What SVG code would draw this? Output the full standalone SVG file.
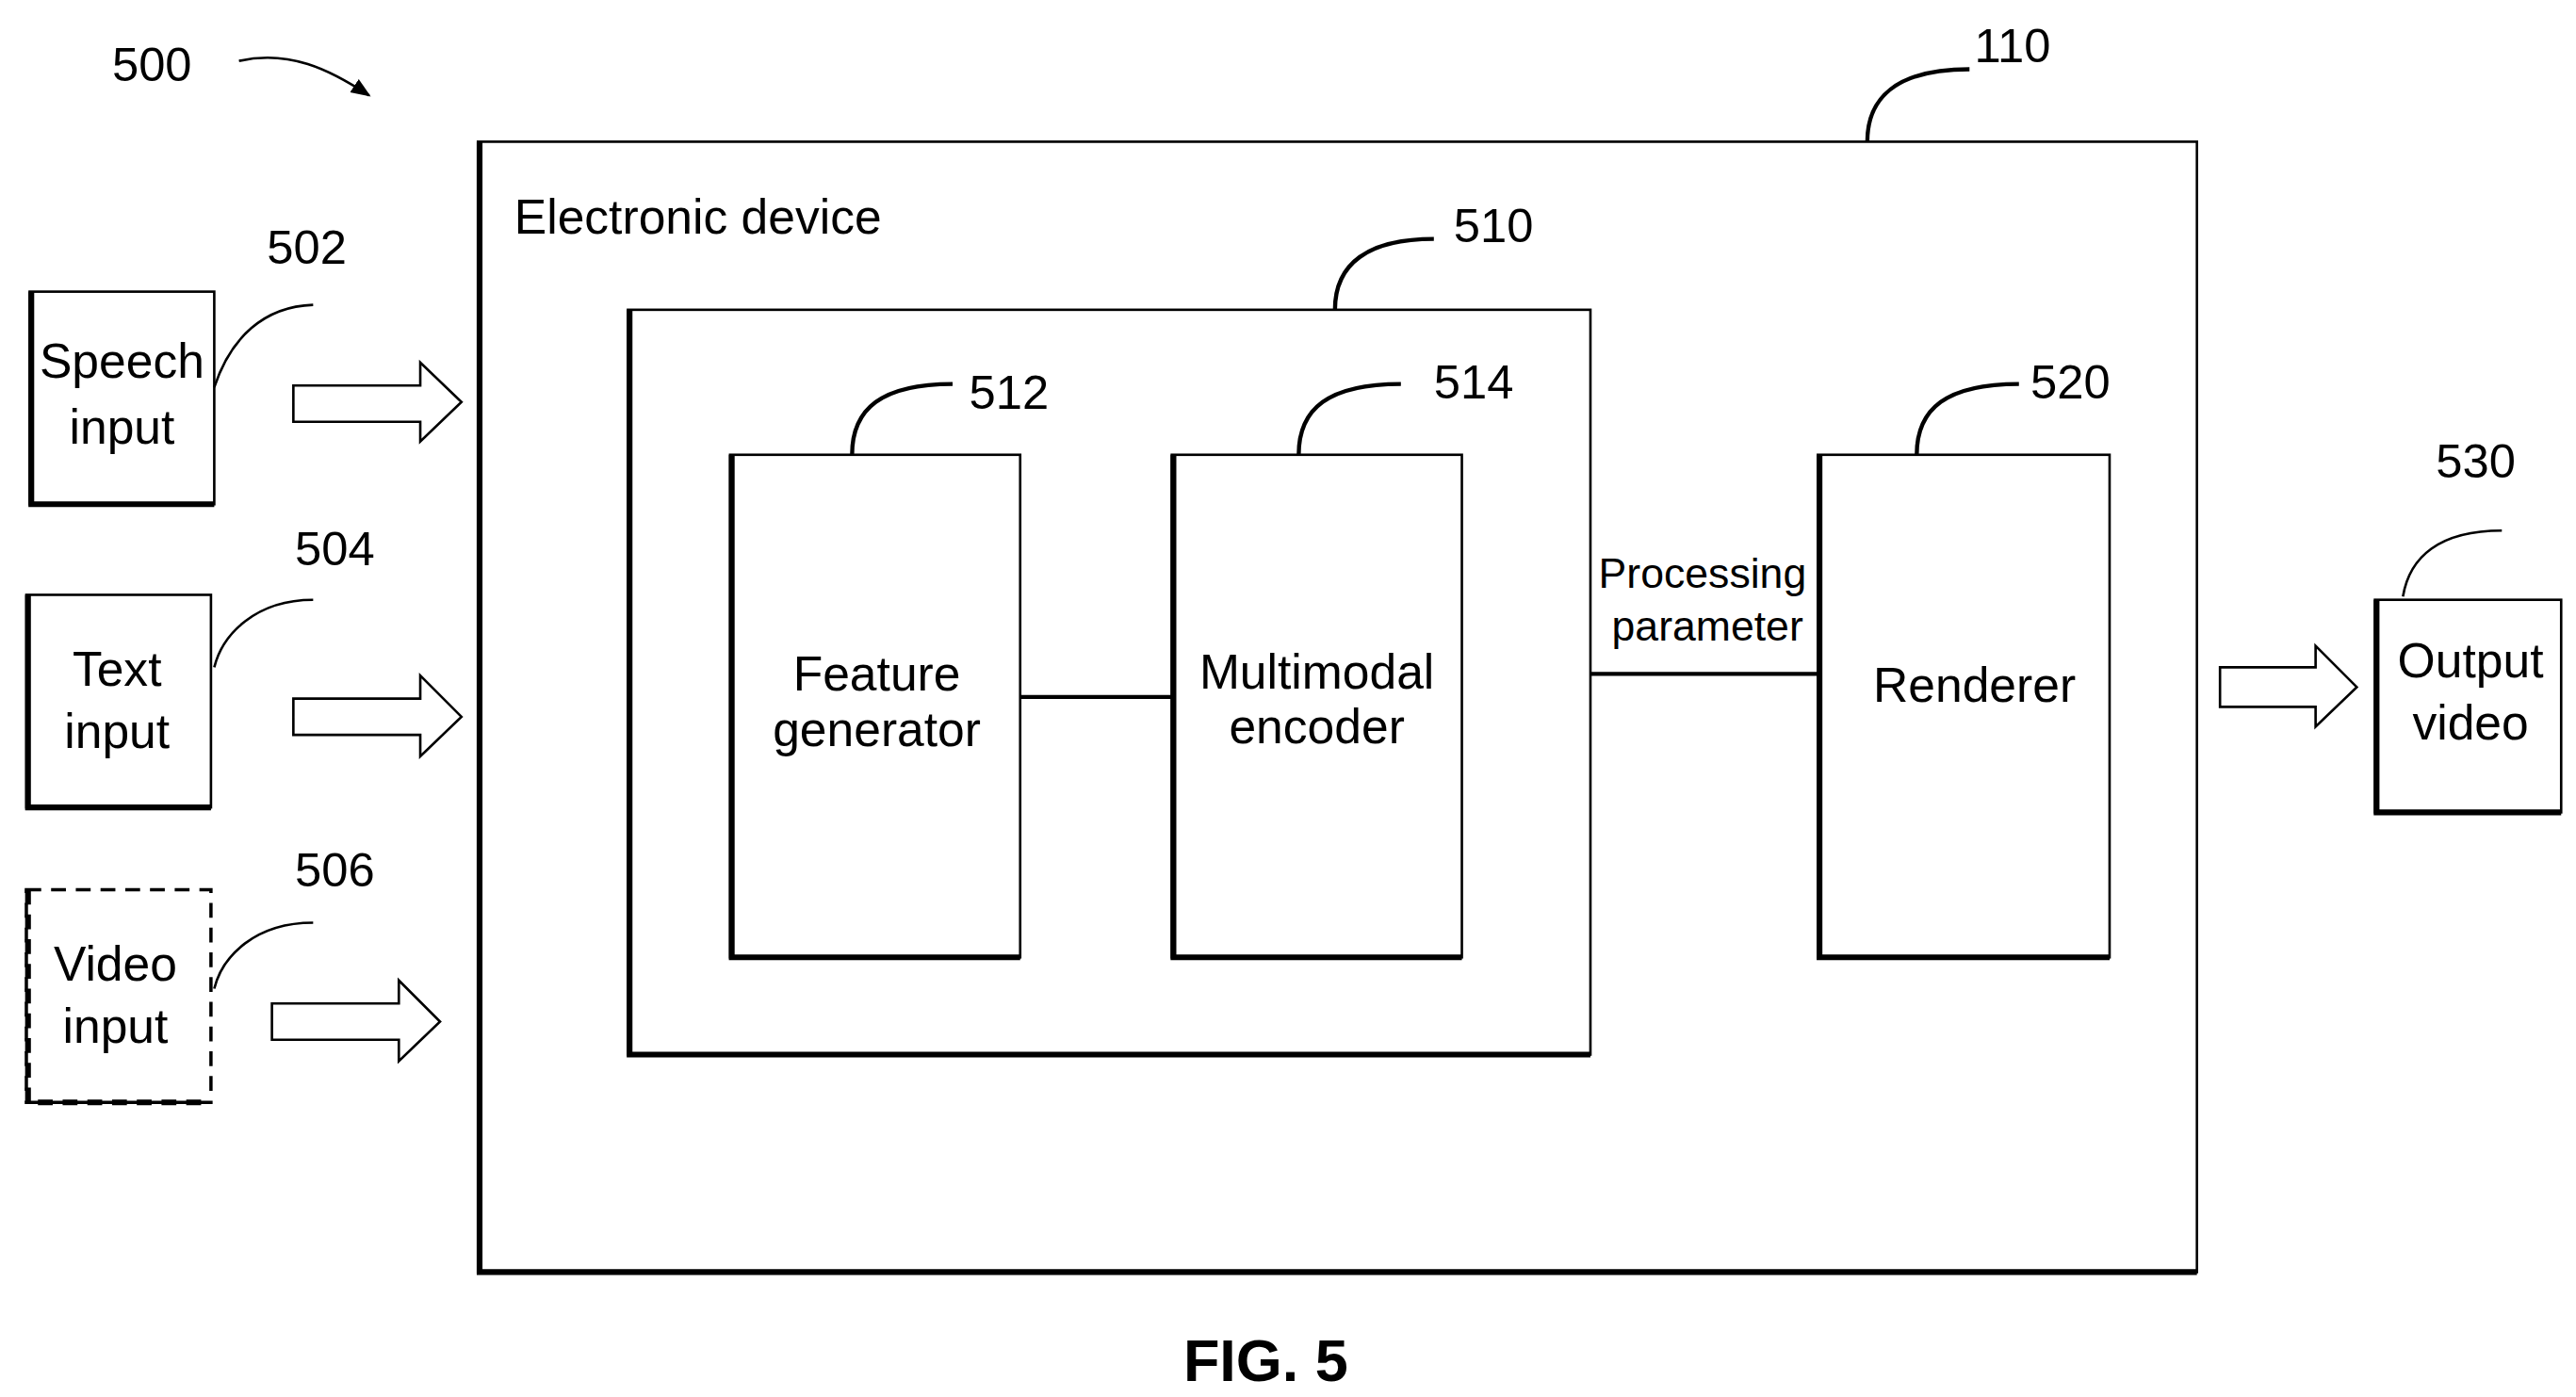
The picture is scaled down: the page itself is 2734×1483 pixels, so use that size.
<svg xmlns="http://www.w3.org/2000/svg" width="2734" height="1483" viewBox="0 0 2734 1483">
<style>
text{font-family:"Liberation Sans",Arial,sans-serif;fill:#000}
.b{fill:#fff;stroke:#000;stroke-width:1.5}
.sh{fill:none;stroke:#000;stroke-width:3.5}
.l{fill:none;stroke:#000;stroke-width:1.5}
.ld{fill:none;stroke:#000;stroke-width:2.5}
.n{font-size:29px}
.t{font-size:29.5px;text-anchor:middle}
.ha{fill:#fff;stroke:#000;stroke-width:1.5}
</style>
<defs><marker id="ah" viewBox="0 0 10 10" refX="9" refY="5" markerWidth="8" markerHeight="8" orient="auto"><path d="M0,1 L10,5 L0,9 Z" fill="#000"/></marker></defs>
<rect width="2734" height="1483" fill="#fff"/>
<g transform="scale(1.7492)">
<g id="label500"><text x="68" y="49" class="n">500</text><path d="M145,37 C175,30 200,42 224,58" class="l" marker-end="url(#ah)"/></g>
<g id="device110">
<rect x="290" y="86" width="1043" height="686" class="b"/>
<path d="M291,86 V772 H1333" class="sh"/>
<text x="312" y="142" font-size="29.5">Electronic device</text>
<path d="M1133,86 C1133,60 1150,42 1195,42" class="ld"/><text x="1198" y="38" class="n">110</text>
</g>
<g id="box510">
<rect x="381" y="188" width="584" height="452" class="b"/>
<path d="M382,188 V640 H965" class="sh"/>
<path d="M810,188 C810,160 830,145 870,145" class="ld"/><text x="882" y="147" class="n">510</text>
</g>
<g id="feature512">
<rect x="443" y="276" width="176" height="305" class="b"/>
<path d="M444,276 V581 H619" class="sh"/>
<text x="532" y="419" class="t">Feature</text><text x="532" y="453" class="t">generator</text>
<path d="M517,276 C517,248 535,233 578,233" class="ld"/><text x="588" y="248" class="n">512</text>
</g>
<g id="encoder514">
<rect x="711" y="276" width="176" height="305" class="b"/>
<path d="M712,276 V581 H887" class="sh"/>
<text x="799" y="418" class="t">Multimodal</text><text x="799" y="451" class="t">encoder</text>
<path d="M788,276 C788,248 806,233 850,233" class="ld"/><text x="870" y="242" class="n">514</text>
</g>
<g id="renderer520">
<rect x="1103" y="276" width="177" height="305" class="b"/>
<path d="M1104,276 V581 H1280" class="sh"/>
<text x="1198" y="426" class="t">Renderer</text>
<path d="M1163,276 C1163,248 1181,233 1225,233" class="ld"/><text x="1232" y="242" class="n">520</text>
</g>
<g id="speech502">
<rect x="18" y="177" width="112" height="129" class="b"/>
<path d="M19,177 V306 H130" class="sh"/>
<text x="74" y="229" class="t">Speech</text><text x="74" y="269" class="t">input</text>
<path d="M130,235 C140,205 160,186 190,185" class="l"/><text x="162" y="160" class="n">502</text>
</g>
<g id="text504">
<rect x="16" y="361" width="112" height="129" class="b"/>
<path d="M17,361 V490 H128" class="sh"/>
<text x="71" y="416" class="t">Text</text><text x="71" y="454" class="t">input</text>
<path d="M130,405 C135,385 155,364 190,364" class="l"/><text x="179" y="343" class="n">504</text>
</g>
<g id="video506">
<rect x="16" y="540" width="112" height="129" fill="#fff" stroke="#000" stroke-width="2" stroke-dasharray="9,6"/>
<path d="M17,540 V669 H128" fill="none" stroke="#000" stroke-width="3.5" stroke-dasharray="9,6"/>
<text x="70" y="595" class="t">Video</text><text x="70" y="633" class="t">input</text>
<path d="M130,600 C135,580 155,560 190,560" class="l"/><text x="179" y="538" class="n">506</text>
</g>
<g id="output530">
<rect x="1441" y="364" width="113" height="129" class="b"/>
<path d="M1442,364 V493 H1554" class="sh"/>
<text x="1499" y="411" class="t">Output</text><text x="1499" y="449" class="t">video</text>
<path d="M1458,362 C1462,338 1480,322 1518,322" class="l"/><text x="1478" y="290" class="n">530</text>
</g>
<g id="connectors">
<path d="M178,234 H255 V220 L280,244 L255,268 V256 H178 Z" class="ha"/>
<path d="M178,424 H255 V410 L280,435 L255,459 V446 H178 Z" class="ha"/>
<path d="M165,609 H242 V595 L267,620 L242,644 V631 H165 Z" class="ha"/>
<path d="M1347,405 H1405 V392 L1430,417 L1405,441 V429 H1347 Z" class="ha"/>
<path d="M619,423 H711" class="ld"/>
<path d="M965,409 H1103" class="ld"/>
<text x="1033" y="357" font-size="25.5" text-anchor="middle">Processing</text>
<text x="1036" y="389" font-size="25.5" text-anchor="middle">parameter</text>
</g>
<text x="768" y="838" font-size="36" font-weight="bold" text-anchor="middle">FIG. 5</text>
</g>
</svg>
